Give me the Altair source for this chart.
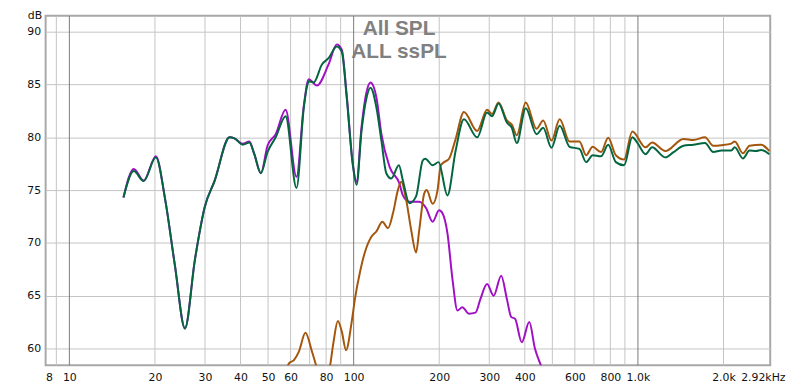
import altair as alt
import pandas as pd
import json

# ---------------- data ----------------
green_freq = [15.5, 16.85, 18.25, 20.15, 21.73, 23.53, 25.5, 27.64, 29.94, 32.45, 36.6, 38.09,
              40.72, 42.96, 44.73, 47.16, 49.77, 53.19, 57.63, 62.95, 66.79, 68.58, 69.52, 72.37,
              77.35, 81.61, 87.28, 90.85, 94.54, 99.2, 102.4, 106.6, 111.0, 114.6, 120.3, 125.2,
              130.3, 135.6, 144.3, 149.0, 157.1, 165.8, 175.0, 178.6, 189.6, 198.9, 213.8, 228.5,
              244.3, 272.0, 294.7, 306.8, 323.4, 345.9, 360.1, 374.9, 402.9, 440.1, 464.1, 496.5,
              530.7, 574.9, 622.8, 657.3, 693.0, 741.4, 786.1, 836.2, 893.8, 955.4, 994.4, 1064,
              1121, 1249, 1335, 1446, 1567, 1722, 1840, 1967, 2131, 2190, 2341, 2470, 2604, 2711, 2900]
green_db = [74.3, 76.8, 75.85, 78.1, 74.1, 67.8, 61.9, 68.4, 73.4, 75.9, 80.0, 79.9,
            79.3, 79.5, 78.4, 76.6, 78.6, 80.0, 82.0, 75.2, 82.8, 84.85, 85.3, 85.2,
            86.9, 87.5, 88.6, 88.1, 83.75, 77.5, 75.5, 80.6, 83.75, 84.7, 82.8, 79.7,
            76.6, 76.1, 77.35, 75.9, 73.75, 74.4, 77.8, 77.97, 77.35, 77.65, 74.5, 78.75,
            81.7, 80.0, 82.35, 82.0, 83.2, 81.4, 80.9, 79.45, 82.75, 80.3, 80.9, 79.0,
            81.1, 79.1, 78.9, 77.65, 78.3, 78.2, 79.3, 77.65, 77.35, 80.0, 79.5, 78.4,
            79.05, 78.1, 78.6, 79.2, 79.3, 79.45, 78.6, 78.75, 78.75, 79.05, 78.0, 78.75, 78.7, 78.8, 78.4]

purple_freq = [15.5, 16.85, 18.25, 20.15, 21.73, 23.53, 25.5, 27.64, 29.94, 32.45, 36.6, 38.09,
               40.72, 42.96, 44.73, 47.16, 49.77, 53.19, 57.63, 62.95, 66.79, 69.52, 74.31, 81.61,
               87.28, 90.85, 94.54, 99.2, 102.4, 106.6, 111.0, 114.6, 120.3, 125.2, 133.8, 145.0,
               149.0, 157.1, 170.2, 179.7, 189.6, 199.8, 205.4, 213.8, 222.6, 231.8, 241.2, 254.3,
               268.3, 279.3, 294.7, 310.7, 330.4, 345.9, 358.1, 369.8, 390.2, 414.8, 434.2, 455.6, 475.0]
purple_db = [74.3, 77.0, 75.9, 78.2, 74.1, 67.8, 61.9, 68.4, 73.4, 75.9, 80.0, 79.9,
             79.4, 79.6, 78.4, 76.6, 79.2, 80.3, 82.6, 76.25, 83.0, 85.5, 84.9, 86.9,
             88.8, 88.3, 84.0, 77.6, 75.8, 81.0, 84.3, 85.2, 83.75, 80.3, 77.2, 75.6,
             74.5, 73.9, 73.9, 73.3, 72.0, 73.1, 72.8, 70.9, 66.6, 63.6, 63.9, 63.3,
             63.4, 64.7, 66.1, 65.0, 66.9, 64.7, 63.0, 62.8, 60.6, 62.5, 60.0, 58.4, 57.0]

brown_freq = [57.0, 59.22, 61.65, 64.17, 67.67, 71.39, 74.31, 76.5, 80.0, 82.66, 84.95, 87.98,
              90.85, 94.01, 98.4, 101.05, 105.2, 109.5, 115.6, 120.3, 126.2, 132.1, 137.5, 143.1,
              147.0, 153.0, 159.3, 165.8, 170.2, 177.2, 180.7, 189.6, 197.3, 202.6, 208.1, 216.6,
              228.5, 244.3, 272.0, 294.7, 306.8, 323.4, 345.9, 360.1, 374.9, 402.9, 440.1, 464.1,
              496.5, 530.7, 574.9, 622.8, 657.3, 693.0, 741.4, 786.1, 836.2, 893.8, 955.4, 1064,
              1121, 1249, 1446, 1567, 1722, 1840, 1967, 2131, 2190, 2341, 2470, 2711, 2900]
brown_db = [57.0, 58.6, 58.9, 59.7, 61.5, 59.7, 58.1, 56.8, 56.8, 58.4, 60.6, 62.6,
            61.6, 59.85, 62.5, 64.7, 67.2, 69.1, 70.6, 71.1, 72.0, 71.4, 72.8, 75.0,
            75.8, 74.1, 71.25, 69.1, 71.25, 74.7, 75.0, 73.7, 75.0, 77.35, 77.65, 77.97,
            79.85, 82.4, 80.6, 82.6, 82.2, 83.3, 81.6, 81.2, 80.2, 83.3, 80.8, 81.6,
            79.7, 81.7, 79.6, 79.6, 78.3, 79.1, 78.6, 79.95, 78.3, 77.9, 80.55, 79.05,
            79.5, 78.7, 79.85, 79.75, 80.0, 79.2, 79.25, 79.4, 79.6, 78.5, 79.2, 79.3, 78.7]

series_names = ["purple", "brown", "green"]
series_colors = ["#a010c4", "#a3560c", "#036640"]

title_lines = ["All SPL", "ALL ssPL"]

x_tick_values = [8.25, 10, 20, 30, 40, 50, 60, 80, 100, 200, 300, 400, 600, 800, 1000, 2000, 2920]
x_tick_labels = ["8", "10", "20", "30", "40", "50", "60", "80", "100", "200", "300", "400",
                 "600", "800", "1.0k", "2.0k", "2.92kHz"]
minor_grid = [9, 20, 30, 40, 50, 60, 70, 80, 90, 200, 300, 400, 500, 600, 700, 800, 900, 2000]
major_grid = [10, 100, 1000]
y_tick_values = [60, 65, 70, 75, 80, 85, 90]

x_domain = [8.25, 2920]
y_domain = [58.41, 91.5]

# ---------------- build tables ----------------
lines_df = pd.concat([
    pd.DataFrame({"freq": purple_freq, "db": purple_db, "series": "purple", "order": 0}),
    pd.DataFrame({"freq": brown_freq, "db": brown_db, "series": "brown", "order": 1}),
    pd.DataFrame({"freq": green_freq, "db": green_db, "series": "green", "order": 2}),
], ignore_index=True)

label_expr = "{}[indexof({}, datum.value)]".format(json.dumps(x_tick_labels), json.dumps(x_tick_values))

font = "DejaVu Sans"

x_axis = alt.Axis(values=x_tick_values, labelExpr=label_expr, grid=False, ticks=False, domain=False,
                  title=None, labelFont=font, labelFontSize=11, labelColor="#111111",
                  labelPadding=6, labelOverlap=False, labelFlush=True,
                  labelOffset={"condition": {"test": "datum.value > 2500", "value": 15},
                               "value": 0})
x_scale = alt.Scale(type="log", domain=x_domain, nice=False)

y_axis = alt.Axis(values=y_tick_values, grid=True, gridColor="#c4c4c4", gridWidth=1,
                  ticks=False, domain=False, labelFont=font, labelFontSize=11,
                  labelColor="#111111", labelPadding=5,
                  title="dB", titleAngle=0, titleAlign="right", titleBaseline="alphabetic",
                  titleX=-4, titleY=2.5, titleFont=font, titleFontSize=11,
                  titleFontWeight="normal", titleColor="#111111")
y_scale = alt.Scale(domain=y_domain, nice=False, zero=False)

minor = alt.Chart(pd.DataFrame({"freq": minor_grid})).mark_rule(
    color="#c4c4c4", strokeWidth=1).encode(
    x=alt.X("freq:Q", scale=x_scale, axis=x_axis))

major = alt.Chart(pd.DataFrame({"freq": major_grid})).mark_rule(
    color="#7a7a7a", strokeWidth=1).encode(
    x=alt.X("freq:Q", scale=x_scale, axis=x_axis))

lines = alt.Chart(lines_df).mark_line(
    strokeWidth=2, interpolate="monotone", clip=True).encode(
    x=alt.X("freq:Q", scale=x_scale, axis=x_axis),
    y=alt.Y("db:Q", scale=y_scale, axis=y_axis),
    color=alt.Color("series:N", scale=alt.Scale(domain=series_names, range=series_colors), legend=None),
    detail="series:N",
    order="order:Q",
)

t1 = alt.Chart(pd.DataFrame({"t": [title_lines[0]]})).mark_text(
    font="Liberation Sans", fontSize=21, fontWeight="bold", color="#808080",
    align="center", baseline="alphabetic").encode(
    text="t:N", x=alt.value(357), y=alt.value(19.5))
t2 = alt.Chart(pd.DataFrame({"t": [title_lines[1]]})).mark_text(
    font="Liberation Sans", fontSize=21, fontWeight="bold", color="#808080",
    align="center", baseline="alphabetic").encode(
    text="t:N", x=alt.value(357), y=alt.value(43))

chart = alt.layer(minor, major, lines, t1, t2).properties(
    width=732, height=353,
    autosize=alt.AutoSizeParams(type="none"),
    padding={"left": 38, "top": 6, "right": 22, "bottom": 22},
    background="white",
).configure_view(stroke="#a8a8a8", strokeWidth=2)

chart.save("out.html", embed_options={"renderer": "svg", "actions": False})
